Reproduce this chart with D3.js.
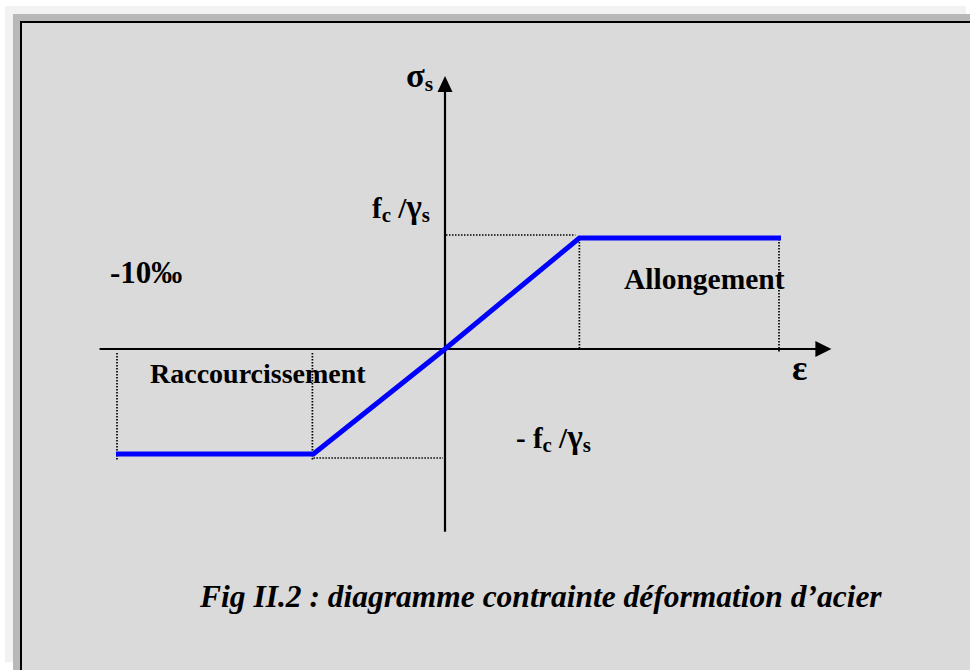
<!DOCTYPE html>
<html>
<head>
<meta charset="utf-8">
<script src="https://cdn.jsdelivr.net/npm/d3@7/dist/d3.min.js"></script>
<style>
  html, body { margin: 0; padding: 0; background: #fff; }
  svg { display: block; }
</style>
</head>
<body>
<svg id="chart" width="970" height="670"></svg>
<script>
// strain (x) and stress (y) of the idealised steel law, schematic units
const strain = [-10, -4, 0, 4, 10]
const stress = [-1, -1, 0, 1, 1]

// axis extents (same units)
const strainAxis = [-10.5, 11.5]
const stressAxis = [-1.74, 2.46]

// labels (odd entries are subscripts)
const labelSigma = ['σ', 's']
const labelYield = ['f', 'c', ' /', '', 'γ', 's']
const labelYieldNeg = ['- f', 'c', ' /', '', 'γ', 's']
const labelStrain = 'ε'
const labelLimit = '-10‰'
const labelTension = 'Allongement'
const labelCompression = 'Raccourcissement'
const caption = 'Fig II.2 : diagramme contrainte déformation d’acier'

const width = 970
const height = 670
const svg = d3.select('#chart')
const font = "'Liberation Serif', 'Times New Roman', serif"
const greek = /[α-ωΑ-Ω]/

// page / frame
svg.append('rect').attr('x', 5).attr('y', 6).attr('width', 961).attr('height', 656).attr('fill', '#f2f2f2')
svg.append('rect').attr('x', 13).attr('y', 14).attr('width', 970).attr('height', 670).attr('fill', '#b8b8b8')
svg.append('rect').attr('x', 21).attr('y', 22).attr('width', 970).attr('height', 670)
  .attr('fill', '#dadada').attr('stroke', '#000').attr('stroke-width', 2)

// scales (piecewise so the origin sits where the drawing has it)
const x = d3.scaleLinear().domain([-10, 0, 10]).range([116, 445, 781])
const y = d3.scaleLinear().domain([-1, 0, 1]).range([454, 349, 238])

const g = svg.append('g')

// dotted guides
const dotted = (x1, y1, x2, y2) => g.append('line')
  .attr('x1', x1).attr('y1', y1).attr('x2', x2).attr('y2', y2)
  .attr('stroke', '#000').attr('stroke-width', 1.7).attr('stroke-dasharray', '1.5,1.5')

dotted(x(strain[0]) + 1, y(0) + 4, x(strain[0]) + 1, y(stress[0]) + 6)
dotted(x(strain[1]) - 1, y(0) + 4, x(strain[1]) - 1, y(stress[1]) + 6)
dotted(x(strain[1]), y(stress[1]) + 4, x(0) - 2, y(stress[1]) + 4)
dotted(x(0) + 1, y(stress[3]) - 3, x(strain[3]) - 4, y(stress[3]) - 3)
dotted(x(strain[3]), y(stress[3]) + 1, x(strain[3]), y(0) - 1)
dotted(x(strain[4]) - 2, y(stress[4]) + 1, x(strain[4]) - 2, y(0) + 3)

// axes with arrow heads
g.append('line')
  .attr('x1', x(strainAxis[0])).attr('y1', y(0))
  .attr('x2', x(strainAxis[1]) - 14).attr('y2', y(0))
  .attr('stroke', '#000').attr('stroke-width', 2.2)
g.append('path')
  .attr('d', `M${x(strainAxis[1])},${y(0)} L${x(strainAxis[1]) - 16},${y(0) - 8} L${x(strainAxis[1]) - 16},${y(0) + 8} Z`)
  .attr('fill', '#000')

g.append('line')
  .attr('x1', x(0)).attr('y1', y(stressAxis[0]))
  .attr('x2', x(0)).attr('y2', y(stressAxis[1]) + 14)
  .attr('stroke', '#000').attr('stroke-width', 2.2)
g.append('path')
  .attr('d', `M${x(0)},${y(stressAxis[1])} L${x(0) - 7.5},${y(stressAxis[1]) + 16} L${x(0) + 7.5},${y(stressAxis[1]) + 16} Z`)
  .attr('fill', '#000')

// the law itself
const line = d3.line().x((d, i) => x(strain[i])).y(d => y(d))
g.append('path')
  .attr('d', line(stress))
  .attr('fill', 'none')
  .attr('stroke', '#0000ff')
  .attr('stroke-width', 5)
  .attr('stroke-linejoin', 'miter')

// labels with subscripts
function label(px, py, parts, size) {
  const t = g.append('text')
    .attr('x', px).attr('y', py)
    .attr('font-family', font).attr('font-weight', 'bold')
    .attr('fill', '#000')
  let shifted = false
  parts.forEach((p, i) => {
    const sub = i % 2 === 1
    if (!p) return
    const dy = sub && !shifted ? 4 : (!sub && shifted ? -4 : 0)
    shifted = sub
    t.append('tspan')
      .attr('font-size', sub ? size * 0.72 : (greek.test(p) ? size * 1.15 : size))
      .attr('dy', dy)
      .text(p)
  })
  return t
}

label(406, 87, labelSigma, 30)
label(372, 218, labelYield, 29)
label(516, 448, labelYieldNeg, 29)

const plain = (px, py, txt, size) => g.append('text')
  .attr('x', px).attr('y', py)
  .attr('font-family', font).attr('font-weight', 'bold').attr('font-size', size)
  .text(txt)

plain(792, 380, labelStrain, 36)
plain(110, 283, labelLimit, 31)
plain(624, 289, labelTension, 29.5)
plain(150, 383, labelCompression, 28)

g.append('text')
  .attr('x', 200).attr('y', 607)
  .attr('font-family', font).attr('font-weight', 'bold').attr('font-style', 'italic')
  .attr('font-size', 31.5)
  .text(caption)
</script>
</body>
</html>
